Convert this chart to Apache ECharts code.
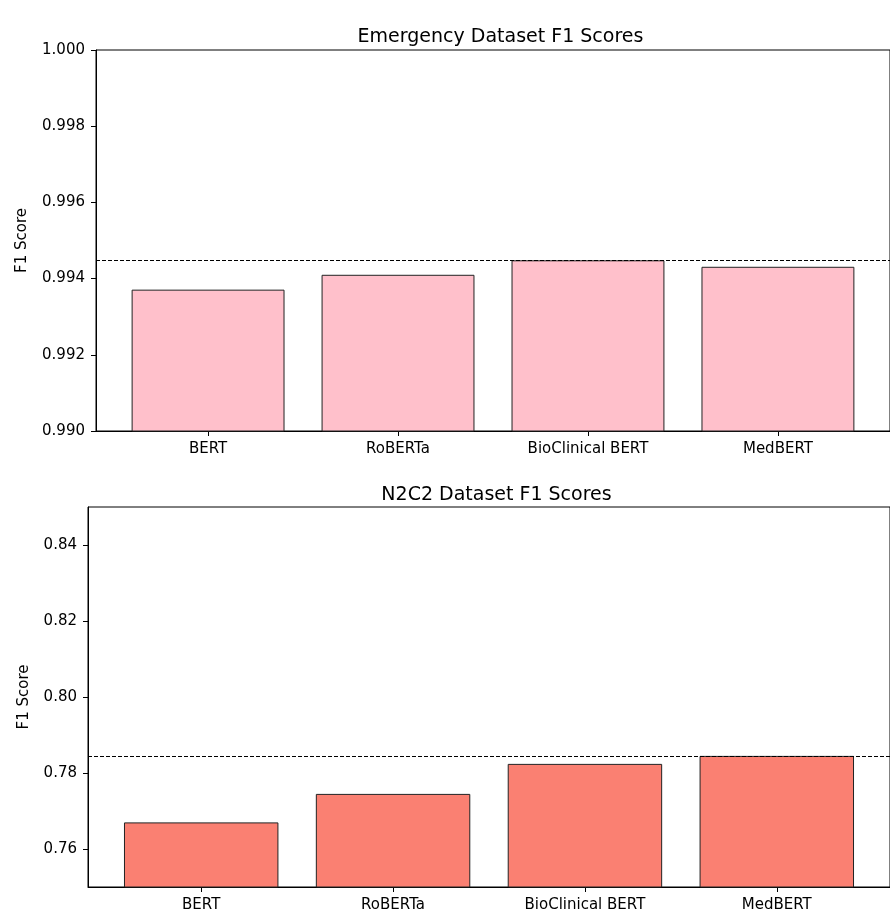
<!DOCTYPE html>
<html>
<head>
<meta charset="utf-8">
<script src="https://cdn.jsdelivr.net/npm/echarts@6/dist/echarts.min.js"></script>
<style>html,body{margin:0;padding:0;background:#fff}#c{width:890px;height:913px}</style>
</head>
<body>
<div id="c"></div>
<script>
const categories = ['BERT', 'RoBERTa', 'BioClinical BERT', 'MedBERT'];
const emergencyF1 = [0.99371, 0.99410, 0.99448, 0.99431];
const n2c2F1 = [0.7670, 0.7745, 0.7824, 0.7845];
const emergencyBest = 0.99448;
const n2c2Best = 0.7845;
const emergencyTicks = [0.990, 0.992, 0.994, 0.996, 0.998, 1.000];
const n2c2Ticks = [0.76, 0.78, 0.80, 0.82, 0.84];

const FONT = 'DejaVu Sans';
const XMIN = -0.59, XMAX = 3.59;
const grids = [
  {left: 96, top: 50, width: 799, height: 381},
  {left: 88, top: 507, width: 807, height: 386}
];
function bw(g){ return g.width / (XMAX - XMIN) * 0.8; }

function xAxis(i){
  return {
    type: 'value', gridIndex: i, min: XMIN, max: XMAX,
    splitLine: {show: false},
    axisLine: {show: true, onZero: false, lineStyle: {color: '#000', width: 1}},
    axisTick: {show: true, length: 5, customValues: [0,1,2,3], lineStyle: {color: '#000'}},
    axisLabel: {customValues: [0,1,2,3], formatter: v => categories[Math.round(v)], color: '#000', fontFamily: FONT, fontSize: 15, margin: 11}
  };
}
function yAxis(i, min, max, ticks, dec, gap){
  return {
    type: 'value', gridIndex: i, min: min, max: max,
    name: 'F1 Score', nameLocation: 'middle', nameRotate: 90, nameGap: gap,
    nameTextStyle: {color: '#000', fontFamily: FONT, fontSize: 15},
    splitLine: {show: false},
    axisLine: {show: true, onZero: false, lineStyle: {color: '#000', width: 1}},
    axisTick: {show: true, length: 5, customValues: ticks, lineStyle: {color: '#000'}},
    axisLabel: {customValues: ticks, color: '#000', fontFamily: FONT, fontSize: 15, margin: 11,
      formatter: v => Number(v).toFixed(dec)}
  };
}
function barSeries(i, vals, color, best){
  return {
    type: 'bar', xAxisIndex: i, yAxisIndex: i,
    data: vals.map((v, k) => [k, v]),
    barWidth: bw(grids[i]),
    itemStyle: {color: color, borderColor: '#222', borderWidth: 1},
    markLine: {
      silent: true, symbol: 'none', precision: 6, label: {show: false},
      lineStyle: {color: '#000', type: [4, 2], width: 1},
      data: [{yAxis: best}]
    }
  };
}

const chart = echarts.init(document.getElementById('c'), null, {renderer: 'canvas'});
chart.setOption({
  animation: false,
  backgroundColor: '#fff',
  title: [
    {text: 'Emergency Dataset F1 Scores', left: grids[0].left + grids[0].width/2, top: 23, textAlign: 'center',
     textStyle: {fontFamily: FONT, fontSize: 19, fontWeight: 'normal', color: '#000'}},
    {text: 'N2C2 Dataset F1 Scores', left: grids[1].left + grids[1].width/2, top: 481, textAlign: 'center',
     textStyle: {fontFamily: FONT, fontSize: 19, fontWeight: 'normal', color: '#000'}}
  ],
  grid: grids.map(g => Object.assign({show: true, borderColor: '#000', borderWidth: 1, backgroundColor: 'transparent'}, g)),
  xAxis: [xAxis(0), xAxis(1)],
  yAxis: [
    yAxis(0, 0.990, 1.000, emergencyTicks, 3, 66),
    yAxis(1, 0.75, 0.85, n2c2Ticks, 2, 56)
  ],
  series: [
    barSeries(0, emergencyF1, '#FFC0CB', emergencyBest),
    barSeries(1, n2c2F1, '#FA8072', n2c2Best)
  ]
});
</script>
</body>
</html>
